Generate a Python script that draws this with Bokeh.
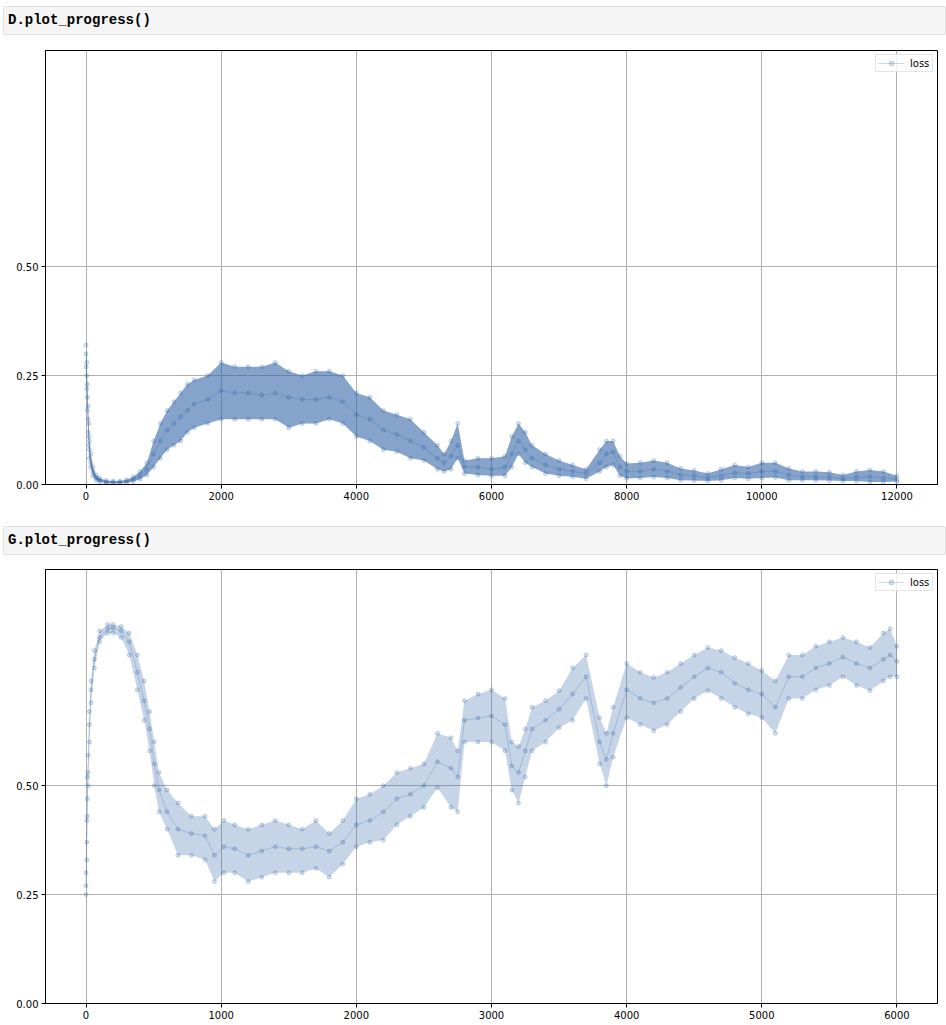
from bokeh.plotting import figure
from bokeh.models import (ColumnDataSource, FixedTicker, NumeralTickFormatter, Legend,
                          LegendItem, Div, Range1d)
from bokeh.layouts import column
from bokeh.embed import file_html
from bokeh.resources import INLINE

# ---------------- D.plot_progress() : loss readings (iteration, low / typical / high) ----
d_x = [0, 10, 20, 30, 40, 50, 70, 100, 150, 200, 300, 400, 500, 600, 700, 800, 900,
       1000, 1100, 1200, 1300, 1400, 1500, 1600, 1800, 2000, 2200, 2400, 2600, 2800,
       3000, 3200, 3400, 3600, 3800, 4000, 4200, 4400, 4600, 4800, 5000, 5200, 5300,
       5400, 5500, 5600, 5800, 6000, 6200, 6300, 6400, 6500, 6600, 6800, 7000, 7200,
       7400, 7600, 7700, 7800, 7900, 8000, 8200, 8400, 8600, 8800, 9000, 9200, 9400,
       9600, 9800, 10000, 10200, 10400, 10600, 10800, 11000, 11200, 11400, 11600,
       11800, 12000]
d_mid = [0.30, 0.25, 0.20, 0.15, 0.11, 0.08, 0.05, 0.03, 0.015, 0.01, 0.006, 0.005,
         0.005, 0.007, 0.012, 0.02, 0.035, 0.07, 0.10, 0.125, 0.14, 0.155, 0.17, 0.185,
         0.195, 0.215, 0.21, 0.21, 0.205, 0.21, 0.20, 0.195, 0.195, 0.20, 0.19, 0.16,
         0.15, 0.125, 0.115, 0.10, 0.085, 0.06, 0.05, 0.065, 0.09, 0.04, 0.04, 0.035,
         0.04, 0.07, 0.10, 0.08, 0.06, 0.045, 0.035, 0.03, 0.025, 0.05, 0.07, 0.075,
         0.04, 0.03, 0.03, 0.035, 0.03, 0.022, 0.02, 0.015, 0.02, 0.027, 0.025, 0.03,
         0.03, 0.022, 0.018, 0.018, 0.017, 0.013, 0.017, 0.018, 0.015, 0.012]
d_lo = [0.27, 0.22, 0.17, 0.12, 0.09, 0.06, 0.04, 0.02, 0.01, 0.006, 0.003, 0.003,
        0.003, 0.004, 0.007, 0.012, 0.022, 0.04, 0.06, 0.08, 0.09, 0.10, 0.12, 0.13,
        0.14, 0.15, 0.15, 0.15, 0.15, 0.15, 0.13, 0.14, 0.14, 0.15, 0.14, 0.11, 0.10,
        0.08, 0.075, 0.06, 0.055, 0.035, 0.03, 0.035, 0.06, 0.025, 0.022, 0.02, 0.02,
        0.04, 0.07, 0.05, 0.04, 0.025, 0.02, 0.018, 0.013, 0.03, 0.04, 0.045, 0.02,
        0.014, 0.015, 0.017, 0.015, 0.01, 0.009, 0.008, 0.01, 0.015, 0.013, 0.015,
        0.016, 0.01, 0.01, 0.01, 0.009, 0.008, 0.008, 0.006, 0.006, 0.007]
d_hi = [0.32, 0.28, 0.23, 0.18, 0.14, 0.10, 0.07, 0.04, 0.022, 0.015, 0.009, 0.008,
        0.008, 0.011, 0.018, 0.03, 0.05, 0.10, 0.14, 0.17, 0.19, 0.21, 0.23, 0.24,
        0.25, 0.28, 0.27, 0.27, 0.27, 0.28, 0.26, 0.25, 0.26, 0.26, 0.25, 0.21, 0.20,
        0.17, 0.16, 0.15, 0.12, 0.09, 0.07, 0.10, 0.14, 0.055, 0.06, 0.06, 0.065,
        0.11, 0.14, 0.12, 0.09, 0.07, 0.055, 0.045, 0.035, 0.08, 0.10, 0.10, 0.065,
        0.048, 0.05, 0.055, 0.05, 0.037, 0.032, 0.025, 0.035, 0.045, 0.04, 0.05,
        0.05, 0.037, 0.03, 0.03, 0.028, 0.022, 0.03, 0.033, 0.03, 0.02]

# ---------------- G.plot_progress() : loss readings ----------------
g_x = [0, 5, 10, 15, 25, 37, 62, 100, 160, 200, 260, 320, 380, 430, 470, 505, 540,
       600, 680, 780, 880, 950, 1020, 1100, 1200, 1300, 1400, 1500, 1600, 1700, 1800,
       1900, 2000, 2100, 2200, 2300, 2400, 2500, 2600, 2700, 2750, 2800, 2900, 3000,
       3100, 3150, 3200, 3250, 3300, 3400, 3500, 3600, 3700, 3800, 3850, 3900, 4000,
       4100, 4200, 4300, 4400, 4500, 4600, 4700, 4800, 4900, 5000, 5100, 5200, 5300,
       5400, 5500, 5600, 5700, 5800, 5900, 5950, 6000]
g_mid = [0.27, 0.37, 0.47, 0.53, 0.64, 0.72, 0.79, 0.84, 0.86, 0.862, 0.855, 0.83,
         0.76, 0.695, 0.63, 0.55, 0.49, 0.44, 0.40, 0.39, 0.385, 0.34, 0.36, 0.355,
         0.34, 0.35, 0.36, 0.355, 0.355, 0.36, 0.35, 0.37, 0.41, 0.42, 0.44, 0.47,
         0.48, 0.50, 0.555, 0.54, 0.52, 0.65, 0.655, 0.66, 0.64, 0.545, 0.53, 0.58,
         0.63, 0.65, 0.675, 0.71, 0.75, 0.60, 0.56, 0.62, 0.72, 0.70, 0.69, 0.70,
         0.725, 0.75, 0.77, 0.76, 0.735, 0.72, 0.71, 0.68, 0.75, 0.75, 0.77, 0.78,
         0.795, 0.78, 0.77, 0.79, 0.80, 0.785]
g_lo = [0.25, 0.33, 0.43, 0.50, 0.60, 0.69, 0.77, 0.83, 0.85, 0.85, 0.84, 0.80, 0.72,
        0.65, 0.58, 0.50, 0.44, 0.40, 0.34, 0.34, 0.33, 0.28, 0.30, 0.30, 0.28, 0.29,
        0.30, 0.30, 0.30, 0.31, 0.29, 0.32, 0.36, 0.37, 0.375, 0.41, 0.43, 0.45, 0.495,
        0.45, 0.44, 0.60, 0.60, 0.60, 0.58, 0.49, 0.46, 0.52, 0.58, 0.60, 0.633, 0.65,
        0.70, 0.55, 0.50, 0.565, 0.656, 0.64, 0.626, 0.64, 0.67, 0.70, 0.718, 0.70,
        0.68, 0.665, 0.656, 0.62, 0.70, 0.70, 0.72, 0.73, 0.75, 0.73, 0.718, 0.74,
        0.75, 0.75]
g_hi = [0.30, 0.42, 0.52, 0.57, 0.67, 0.74, 0.81, 0.855, 0.87, 0.87, 0.865, 0.85,
        0.80, 0.74, 0.67, 0.60, 0.53, 0.49, 0.46, 0.43, 0.43, 0.40, 0.42, 0.41, 0.40,
        0.41, 0.42, 0.41, 0.40, 0.42, 0.39, 0.42, 0.47, 0.48, 0.50, 0.53, 0.54, 0.55,
        0.62, 0.61, 0.58, 0.695, 0.71, 0.72, 0.70, 0.60, 0.59, 0.63, 0.68, 0.695,
        0.718, 0.77, 0.80, 0.656, 0.62, 0.68, 0.78, 0.76, 0.748, 0.76, 0.78, 0.80,
        0.817, 0.81, 0.794, 0.78, 0.764, 0.74, 0.80, 0.80, 0.82, 0.83, 0.84, 0.83,
        0.817, 0.85, 0.86, 0.82]

d_xticks = [0, 2000, 4000, 6000, 8000, 10000, 12000]
g_xticks = [0, 1000, 2000, 3000, 4000, 5000, 6000]
y_ticks = [0, 0.25, 0.5]
series_label = "loss"

BLUE = "#3366a8"


def header(txt):
    html = ('<div style="width:943px;height:29px;box-sizing:border-box;background:#f5f5f5;'
            'border:1px solid #e0e0e0;border-radius:2px;font-family:\'Liberation Mono\',monospace;'
            'font-weight:bold;font-size:14px;line-height:27px;padding-left:4px;color:#000;'
            'white-space:pre;">' + txt + '</div>')
    return Div(text=html, width=943, height=29, margin=(6, 0, 0, 3))


def make_fig(x, lo, mid, hi, xr, xticks, height, top, bottom, band_alpha):
    p = figure(width=946, height=height, output_backend="svg", toolbar_location=None,
               x_range=Range1d(*xr), y_range=Range1d(0, 0.996),
               min_border_left=45, min_border_right=9,
               min_border_top=top, min_border_bottom=bottom)
    p.outline_line_color = "black"
    p.outline_line_alpha = 1
    p.background_fill_color = "white"
    p.border_fill_color = "white"

    p.xaxis.ticker = FixedTicker(ticks=xticks)
    p.yaxis.ticker = FixedTicker(ticks=y_ticks)
    p.yaxis.formatter = NumeralTickFormatter(format="0.00")
    for ax in (p.xaxis[0], p.yaxis[0]):
        ax.axis_line_color = "black"
        ax.major_tick_line_color = "black"
        ax.major_tick_out = 4
        ax.major_tick_in = 0
        ax.minor_tick_line_color = None
        ax.major_label_text_font = "DejaVu Sans"
        ax.major_label_text_font_size = "10px"
        ax.major_label_text_color = "black"
        ax.major_label_standoff = 3
    p.xgrid.grid_line_color = "#b0b0b0"
    p.ygrid.grid_line_color = "#b0b0b0"
    p.xgrid.grid_line_width = 1
    p.ygrid.grid_line_width = 1

    src = ColumnDataSource(dict(x=x, lo=lo, mid=mid, hi=hi))
    p.varea(x="x", y1="lo", y2="hi", source=src, fill_color=BLUE, fill_alpha=band_alpha)
    p.scatter(x="x", y="lo", source=src, size=4, color=BLUE, fill_alpha=0.2, line_alpha=0.25)
    p.scatter(x="x", y="hi", source=src, size=4, color=BLUE, fill_alpha=0.2, line_alpha=0.25)
    lr = p.line(x="x", y="mid", source=src, line_color=BLUE, line_alpha=0.25, line_width=1)
    sr = p.scatter(x="x", y="mid", source=src, size=4, color=BLUE, fill_alpha=0.2,
                   line_alpha=0.25)

    leg = Legend(items=[LegendItem(label=series_label, renderers=[lr, sr])],
                 location="top_right")
    leg.label_text_font = "DejaVu Sans"
    leg.label_text_font_size = "10px"
    leg.label_text_color = "black"
    leg.label_standoff = 6
    leg.glyph_width = 26
    leg.glyph_height = 12
    leg.label_height = 12
    leg.padding = 2
    leg.spacing = 0
    leg.margin = 4
    leg.border_line_color = "#cccccc"
    leg.border_line_width = 1
    leg.background_fill_alpha = 0.8
    p.add_layout(leg)
    return p


p1 = make_fig(d_x, d_lo, d_mid, d_hi, (-600, 12600), d_xticks, 485, 15, 36, 0.6)
p2 = make_fig(g_x, g_lo, g_mid, g_hi, (-300, 6300), g_xticks, 470, 14, 22, 0.28)

layout = column(header("D.plot_progress()"), p1, header("G.plot_progress()"), p2, spacing=0)

open("out.html", "w").write(file_html(layout, INLINE))
